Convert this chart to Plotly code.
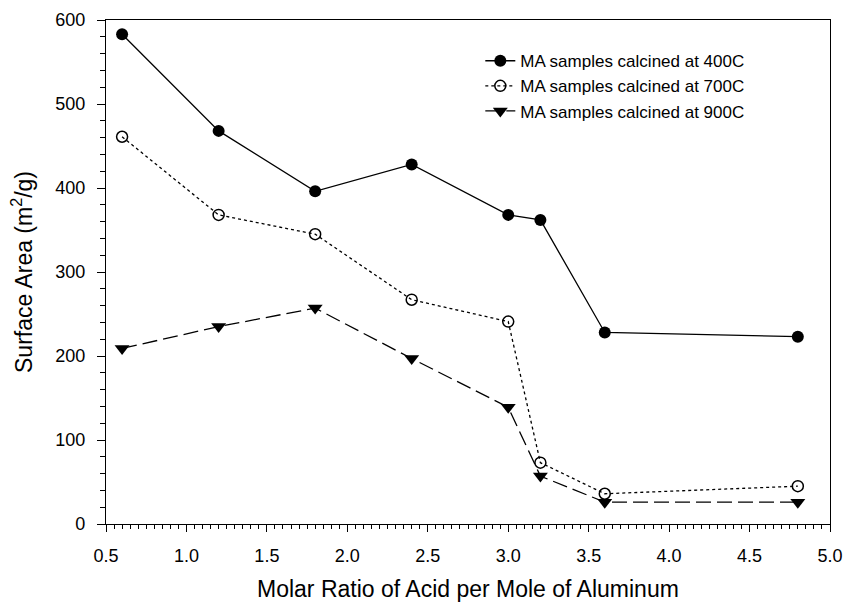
import plotly.graph_objects as go

x_vals = [0.6, 1.2, 1.8, 2.4, 3.0, 3.2, 3.6, 4.8]
s400 = [583, 468, 396, 428, 368, 362, 228, 223]
s700 = [461, 368, 345, 267, 241, 73, 36, 45]
s900 = [209, 235, 257, 197, 139, 57, 26, 26]
names = ["MA samples calcined at 400C", "MA samples calcined at 700C", "MA samples calcined at 900C"]
x_ticks = [0.5, 1.0, 1.5, 2.0, 2.5, 3.0, 3.5, 4.0, 4.5, 5.0]
x_ticktext = ["0.5", "1.0", "1.5", "2.0", "2.5", "3.0", "3.5", "4.0", "4.5", "5.0"]
y_ticks = [0, 100, 200, 300, 400, 500, 600]
x_title = "Molar Ratio of Acid per Mole of Aluminum"
y_title = "Surface Area (m<sup>2</sup>/g)"

fig = go.Figure()
fig.add_trace(go.Scatter(x=x_vals, y=s400, name=names[0], mode="lines+markers",
                         line=dict(color="black", width=1.3),
                         marker=dict(symbol="circle", size=12, color="black")))
fig.add_trace(go.Scatter(x=x_vals, y=s700, name=names[1], mode="lines+markers",
                         line=dict(color="black", width=1.3, dash="dot"),
                         marker=dict(symbol="circle-open", size=11, color="black", line=dict(width=1.5))))
fig.add_trace(go.Scatter(x=x_vals, y=s900, name=names[2], mode="lines+markers",
                         line=dict(color="black", width=1.3, dash="15px,6px"),
                         marker=dict(symbol="triangle-down", size=13, color="black")))

font = "Liberation Sans, Arial, sans-serif"
fig.update_layout(
    width=844, height=605,
    margin=dict(l=106, r=14, t=20, b=81),
    paper_bgcolor="white", plot_bgcolor="white",
    font=dict(family=font, size=18, color="black"),
    showlegend=True,
    legend=dict(x=0.517, y=0.954, xanchor="left", yanchor="top",
                bgcolor="rgba(0,0,0,0)", font=dict(size=17, family=font),
                tracegroupgap=0, itemsizing="trace"),
    xaxis=dict(range=[0.5, 5.0], tickmode="array",
               tickvals=x_ticks, ticktext=x_ticktext,
               ticks="outside", ticklen=7, tickwidth=1, tickcolor="black",
               ticklabelstandoff=8, automargin=False, ticklabeloverflow="allow",
               minor=dict(dtick=0.05, ticks="outside", ticklen=4, tickwidth=1, tickcolor="black", showgrid=False),
               showline=True, linecolor="black", linewidth=1.2, mirror=True,
               showgrid=False, zeroline=False),
    yaxis=dict(range=[0, 600], tickvals=y_ticks,
               ticks="outside", ticklen=8, tickwidth=1, tickcolor="black",
               ticklabelstandoff=8, automargin=False,
               minor=dict(dtick=20, ticks="outside", ticklen=5, tickwidth=1, tickcolor="black", showgrid=False),
               showline=True, linecolor="black", linewidth=1.2, mirror=True,
               showgrid=False, zeroline=False),
    annotations=[
        dict(text=x_title, xref="paper", yref="paper", x=0.5, y=0, yshift=-80,
             xanchor="center", yanchor="bottom", showarrow=False, font=dict(size=23)),
        dict(text=y_title, xref="paper", yref="paper", x=0, y=0.5, xshift=-84,
             xanchor="center", yanchor="middle", textangle=-90, showarrow=False, font=dict(size=23)),
    ],
)
fig.write_html("out.html", config={"displayModeBar": False},
               post_script="document.body.style.margin='0';document.body.style.overflow='hidden';")
